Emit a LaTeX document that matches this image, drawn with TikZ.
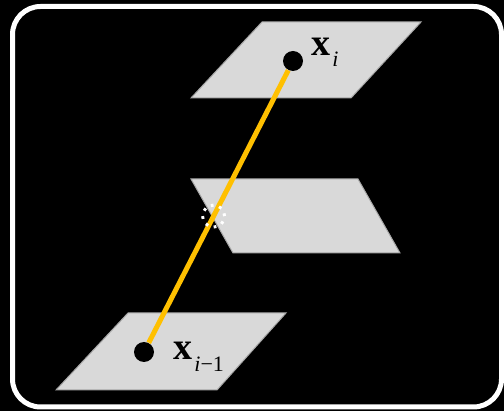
\documentclass[tikz,border=0pt]{standalone}
\usepackage{fontspec}
\setmainfont{Liberation Serif}
\usepackage{xcolor}
\usepackage{tikz}
\usetikzlibrary{calc}

\definecolor{planegray}{HTML}{D9D9D9}
\definecolor{edgegray}{HTML}{A6A6A6}
\definecolor{pathgold}{HTML}{FFC000}

\begin{document}
\begin{tikzpicture}[x=0.5pt, y=-0.5pt]
    \tikzset{
        plane/.style={fill=planegray, draw=edgegray, line width=0.5pt},
        sample/.style={circle, fill=black, minimum size=10pt, inner sep=0pt},
        link/.style={draw=pathgold, line width=2.5pt},
        hit/.style={circle, draw=white, dash pattern=on 1.4pt off 2.9pt, line width=1.5pt, minimum size=11pt, inner sep=0pt},
        lbl/.style={anchor=base west, inner sep=0pt, font=\fontsize{19}{22}\selectfont}
    }

    % background and frame
    \fill[black] (0,0) rectangle (504,411);
    \useasboundingbox (0,0) rectangle (504,411);
    \draw[white, line width=2.5pt, rounded corners=14pt] (12.5,6.5) rectangle (501.5,407);

    % planes
    \draw[plane] (262,22) -- (421,22) -- (351,98) -- (191,98) -- cycle;
    \draw[plane] (191,179) -- (358,179) -- (400,253) -- (233,253) -- cycle;
    \draw[plane] (128,313) -- (286,313) -- (217,390) -- (56,390) -- cycle;

    \node (xi) [sample] at (293,61) {};
    \node (xprev) [sample] at (144,352) {};

    \path [link] (xi) -- (xprev);

    \node (cross) [hit] at ($(xi)!0.533!(xprev)$) {};

    \node (xiLabel) [lbl] at (311,56) {\textbf{x}\kern1pt\raisebox{-5.5pt}{\fontsize{11}{13}\selectfont\textit{i}}};
    \node (xprevLabel) [lbl] at (173,360) {\textbf{x}\kern1pt\raisebox{-6pt}{\fontsize{11}{13}\selectfont\textit{i}−1}};
\end{tikzpicture}
\end{document}
